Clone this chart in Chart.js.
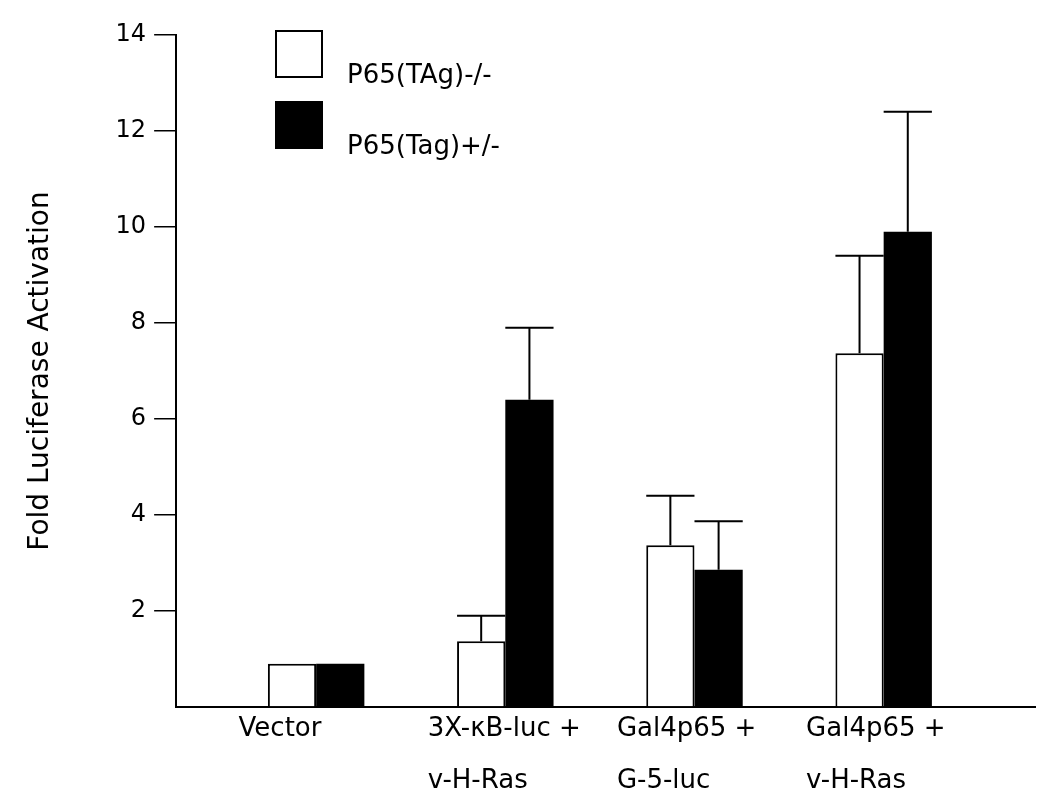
<!DOCTYPE html>
<html>
<head>
<meta charset="utf-8">
<script src="https://cdn.jsdelivr.net/npm/chart.js@4.4.1/dist/chart.umd.min.js"></script>
<style>
  html, body { margin: 0; padding: 0; background: #fff; }
  #wrap { position: relative; width: 1040px; height: 803px; }
  #legend { position: absolute; left: 275px; top: 30px; font: 26px 'DejaVu Sans', sans-serif; color: #000; }
  .row { display: flex; align-items: flex-end; margin-bottom: 23px; }
  .sw { width: 44px; height: 44px; border: 2px solid #000; }
  .row span { margin-left: 24px; line-height: 26px; position: relative; top: 9px; }
</style>
</head>
<body>
<div id="wrap"><canvas id="c" width="1040" height="803"></canvas><div id="legend"></div></div>
<script>
/* Fold luciferase activation, two genotypes */
const groups = [['Vector'], ['3X-κB-luc +', 'v-H-Ras'], ['Gal4p65 +', 'G-5-luc'], ['Gal4p65 +', 'v-H-Ras']];
const seriesNames = ['P65(TAg)-/-', 'P65(Tag)+/-'];
const negValues = [0.9, 1.37, 3.37, 7.37];
const negErrors = [null, 0.53, 1.03, 2.03];
const posValues = [0.9, 6.4, 2.86, 9.9];
const posErrors = [null, 1.5, 1.01, 2.5];
const yTicks = [2, 4, 6, 8, 10, 12, 14];

Chart.defaults.font.family = "'DejaVu Sans', sans-serif";
Chart.defaults.color = '#000';

const pts = vals => vals.map((v, i) => ({ x: i, y: v }));

const errorBars = {
  id: 'errorBars',
  afterDatasetsDraw(chart) {
    const { ctx } = chart;
    const y = chart.scales.y;
    ctx.save();
    ctx.strokeStyle = '#000';
    ctx.lineWidth = 2;
    chart.data.datasets.forEach((ds, di) => {
      chart.getDatasetMeta(di).data.forEach((bar, i) => {
        const e = ds.errors[i];
        if (e == null) return;
        const top = y.getPixelForValue(ds.data[i].y + e);
        const half = bar.width / 2;
        ctx.beginPath();
        ctx.moveTo(bar.x, bar.y); ctx.lineTo(bar.x, top);
        ctx.moveTo(bar.x - half, top); ctx.lineTo(bar.x + half, top);
        ctx.stroke();
      });
    });
    ctx.restore();
  }
};

const chart = new Chart(document.getElementById('c'), {
  type: 'bar',
  data: {
    datasets: [
      { label: seriesNames[0], data: pts(negValues), errors: negErrors,
        backgroundColor: '#fff', borderColor: '#000', borderWidth: 2 },
      { label: seriesNames[1], data: pts(posValues), errors: posErrors,
        backgroundColor: '#000', borderColor: '#000', borderWidth: 0 }
    ]
  },
  options: {
    responsive: false, animation: false,
    categoryPercentage: 0.51, barPercentage: 1.0,
    layout: { padding: { top: 35, right: 5, left: 0, bottom: 0 } },
    plugins: { legend: { display: false }, tooltip: { enabled: false } },
    scales: {
      x: {
        type: 'linear', min: -0.74, max: 3.8, offset: false,
        grid: { display: false, drawTicks: false },
        border: { display: true, color: '#000', width: 2 },
        afterBuildTicks: s => { s.ticks = groups.map((g, i) => ({ value: i - 0.41 })); },
        ticks: {
          autoSkip: false, maxRotation: 0, align: 'start', padding: -4,
          font: { size: 26, lineHeight: '52px' },
          callback: (v, i) => groups[i]
        }
      },
      y: {
        min: 0, max: 14,
        border: { display: true, color: '#000', width: 2 },
        grid: {
          drawOnChartArea: false, drawTicks: true, tickLength: 22, lineWidth: 1.5,
          color: c => (c.tick && c.tick.value === 0) ? 'rgba(0,0,0,0)' : '#000'
        },
        ticks: {
          stepSize: 2, padding: 8, font: { size: 24 },
          callback: v => yTicks.includes(v) ? v : ''
        },
        title: {
          display: true, text: 'Fold Luciferase Activation',
          font: { size: 28 }, padding: { top: 24, bottom: 50 }
        }
      }
    }
  },
  plugins: [errorBars]
});

document.getElementById('legend').innerHTML = chart.data.datasets.map(ds =>
  '<div class="row"><div class="sw" style="background:' + ds.backgroundColor + '"></div><span>' +
  ds.label + '</span></div>').join('');
</script>
</body>
</html>
